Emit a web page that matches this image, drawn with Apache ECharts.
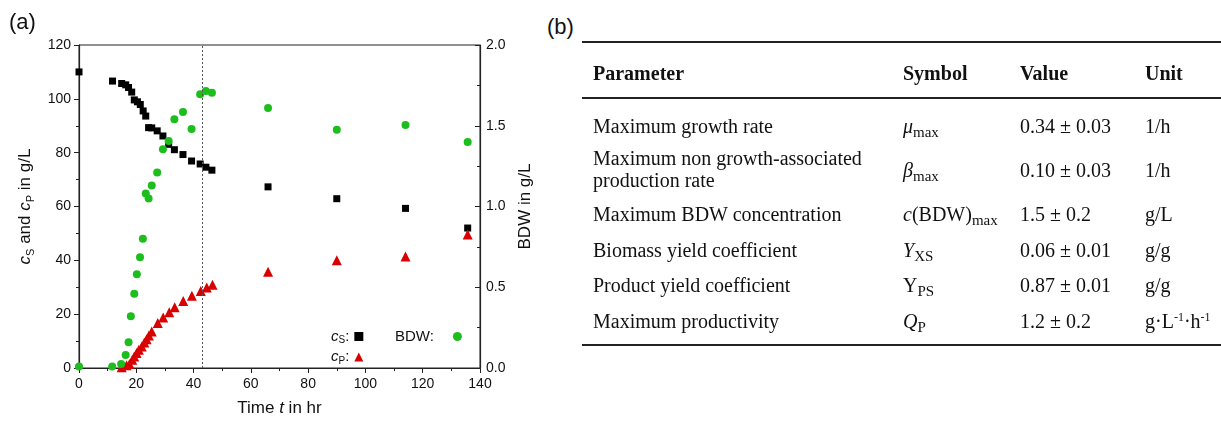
<!DOCTYPE html>
<html>
<head>
<meta charset="utf-8">
<script src="https://cdn.jsdelivr.net/npm/echarts@6/dist/echarts.min.js"></script>
<style>
  html, body { margin: 0; padding: 0; background: #fff; }
  body { width: 1221px; height: 422px; position: relative; overflow: hidden; }
  #chart { position: absolute; left: 0; top: 0; width: 545px; height: 422px; }
  .panel { position: absolute; font-family: "Liberation Sans", Arial, sans-serif; font-size: 22px; color: #111; line-height: 26px; }
  #tbl { position: absolute; left: 0; top: 0; width: 1221px; height: 422px; font-family: "Liberation Serif", "Times New Roman", serif; color: #111; font-size: 20px; }
  .cell { position: absolute; line-height: 22px; white-space: nowrap; }
  .hdr { font-weight: bold; }
  .rule { position: absolute; background: #222; }
  sub { font-size: 15px; vertical-align: -4px; line-height: 0; }
  sup { font-size: 12px; vertical-align: 7px; line-height: 0; }
  i { font-style: italic; }
</style>
</head>
<body>
<div id="chart"></div>
<div class="panel" style="left:9px; top:9px;">(a)</div>
<div class="panel" style="left:547px; top:14px;">(b)</div>
<div id="tbl"></div>
<script>
// ---------- data (panel a) ----------
const timeS = [0, 11.7, 14.9, 16.3, 17.3, 18.4, 19.3, 20.4, 21.4, 22.4, 23.3, 24.3, 25.4, 27.3, 29.3, 31.3, 33.3, 36.3, 39.3, 42.3, 44.3, 46.4, 66, 90, 114, 135.7];
const cS    = [110, 106.6, 105.7, 105.2, 104.2, 102.5, 99.6, 98.9, 97.9, 95.5, 93.6, 89.3, 89.2, 88.1, 86.2, 83.1, 81.1, 79.3, 76.9, 75.8, 74.6, 73.5, 67.3, 62.9, 59.3, 52.0];
const timeP = [14.9, 16.6, 17.6, 18.6, 19.3, 20.1, 20.9, 21.9, 22.8, 23.6, 24.4, 25.4, 27.5, 29.4, 31.5, 33.4, 36.4, 39.4, 42.5, 44.6, 46.6, 66, 90, 114, 135.7];
const cP    = [0.3, 1.0, 1.5, 3.1, 4.3, 5.6, 6.8, 8.0, 9.5, 10.7, 12.1, 13.6, 16.7, 18.8, 20.7, 22.6, 24.9, 26.8, 28.6, 29.9, 30.9, 35.8, 40.0, 41.4, 49.6];
const timeX = [0, 11.6, 14.7, 16.3, 17.3, 18.1, 19.3, 20.2, 21.3, 22.3, 23.3, 24.3, 25.4, 27.3, 29.3, 31.3, 33.3, 36.3, 39.3, 42.3, 44.3, 46.4, 66, 90, 114, 135.7];
const bdw   = [0.01, 0.01, 0.025, 0.08, 0.16, 0.32, 0.46, 0.58, 0.685, 0.80, 1.08, 1.05, 1.13, 1.21, 1.355, 1.405, 1.54, 1.585, 1.48, 1.695, 1.715, 1.705, 1.61, 1.475, 1.505, 1.40];
const markTime = 43;

// ---------- data (panel b) ----------
const tblHeaders = ['Parameter', 'Symbol', 'Value', 'Unit'];
const tblParams  = ['Maximum growth rate', 'Maximum non growth-associated<br>production rate', 'Maximum BDW concentration', 'Biomass yield coefficient', 'Product yield coefficient', 'Maximum productivity'];
const tblSymbols = ['<i>μ</i><sub>max</sub>', '<i>β</i><sub>max</sub>', '<i>c</i>(BDW)<sub>max</sub>', '<i>Y</i><sub>XS</sub>', 'Y<sub>PS</sub>', '<i>Q</i><sub>P</sub>'];
const tblValues  = ['0.34 ± 0.03', '0.10 ± 0.03', '1.5 ± 0.2', '0.06 ± 0.01', '0.87 ± 0.01', '1.2 ± 0.2'];
const tblUnits   = ['1/h', '1/h', 'g/L', 'g/g', 'g/g', 'g·L<sup>-1</sup>·h<sup>-1</sup>'];

// ---------- table layout ----------
const colX = [593, 903, 1020, 1145];
const headerY = 73;
const rowY = [126, 170, 214, 250, 285, 321];
const tbl = document.getElementById('tbl');
function addRule(y, h) {
  const d = document.createElement('div');
  d.className = 'rule';
  d.style.left = '582px'; d.style.width = (1221 - 582) + 'px';
  d.style.top = y + 'px'; d.style.height = h + 'px';
  tbl.appendChild(d);
}
function addCell(html, x, yc, lines, cls) {
  const d = document.createElement('div');
  d.className = 'cell' + (cls ? ' ' + cls : '');
  d.innerHTML = html;
  d.style.left = x + 'px';
  d.style.top = (yc - 11 * lines) + 'px';
  tbl.appendChild(d);
}
addRule(41, 2); addRule(97, 1.5); addRule(344, 2);
tblHeaders.forEach((h, i) => addCell(h, colX[i], headerY, 1, 'hdr'));
rowY.forEach((y, r) => {
  const lines = tblParams[r].includes('<br>') ? 2 : 1;
  addCell(tblParams[r], colX[0], y - (lines === 2 ? 1 : 0), lines);
  addCell(tblSymbols[r], colX[1], y, 1);
  addCell(tblValues[r], colX[2], y, 1);
  addCell(tblUnits[r], colX[3], y, 1);
});

// ---------- chart ----------
const font = '"Liberation Sans", Arial, sans-serif';
const txt = '#111';
const zip = (a, b) => a.map((v, i) => [v, b[i]]);
const chart = echarts.init(document.getElementById('chart'), null, { renderer: 'canvas' });
const sub = { fontSize: 11, fontFamily: font, color: txt, verticalAlign: 'bottom', lineHeight: 11 };
chart.setOption({
  animation: false,
  grid: { left: 79, top: 45, width: 401, height: 325, show: true, borderColor: '#222', borderWidth: 1, backgroundColor: 'transparent' },
  xAxis: {
    type: 'value', min: 0, max: 140, interval: 20,
    axisLine: { lineStyle: { color: '#222', width: 1.2 } },
    axisTick: { show: true, length: 5, lineStyle: { color: '#222' } },
    minorTick: { show: true, splitNumber: 2, length: 3, lineStyle: { color: '#222' } },
    splitLine: { show: false },
    axisLabel: { fontFamily: font, fontSize: 14, color: txt, margin: 9 },
    name: '{n|Time }{i|t}{n| in hr}', nameLocation: 'middle', nameGap: 32,
    nameTextStyle: { rich: { n: { fontFamily: font, fontSize: 17, color: txt }, i: { fontFamily: font, fontSize: 17, fontStyle: 'italic', color: txt } } }
  },
  yAxis: [{
    type: 'value', min: 0, max: 120, interval: 20, position: 'left',
    axisLine: { show: true, lineStyle: { color: '#222', width: 1.2 } },
    axisTick: { show: true, length: 5, lineStyle: { color: '#222' } },
    minorTick: { show: true, splitNumber: 2, length: 3, lineStyle: { color: '#222' } },
    splitLine: { show: false },
    axisLabel: { fontFamily: font, fontSize: 14, color: txt, margin: 8 },
    name: '{i|c}{s|S}{n| and }{i|c}{s|P}{n| in g/L}', nameLocation: 'middle', nameGap: 40, nameRotate: 90,
    nameTextStyle: { rich: {
      n: { fontFamily: font, fontSize: 17, color: txt, lineHeight: 22 },
      i: { fontFamily: font, fontSize: 17, fontStyle: 'italic', color: txt, lineHeight: 22 },
      s: sub } }
  }, {
    type: 'value', min: 0, max: 2, interval: 0.5, position: 'right',
    axisLine: { show: true, lineStyle: { color: '#222', width: 1.2 } },
    axisTick: { show: true, inside: true, length: 5, lineStyle: { color: '#222' } },
    minorTick: { show: true, splitNumber: 2, length: 3, lineStyle: { color: '#222' } },
    splitLine: { show: false },
    axisLabel: { fontFamily: font, fontSize: 14, color: txt, margin: 6, formatter: v => v.toFixed(1) },
    name: 'BDW in g/L', nameLocation: 'middle', nameGap: 36, nameRotate: 90,
    nameTextStyle: { fontFamily: font, fontSize: 17, color: txt }
  }],
  legend: [{
    data: ['cS', 'cP'], orient: 'vertical', left: 331, top: 329, align: 'right',
    itemWidth: 9, itemHeight: 9, itemGap: 4, padding: 0,
    formatter: n => n === 'cS' ? '{i|c}{s|S}{n|:}' : '{i|c}{s|P}{n|:}',
    textStyle: { rich: {
      i: { fontFamily: font, fontSize: 15, fontStyle: 'italic', color: txt, lineHeight: 18 },
      n: { fontFamily: font, fontSize: 15, color: txt, lineHeight: 18 },
      s: { fontFamily: font, fontSize: 10, color: txt, verticalAlign: 'bottom', lineHeight: 10 } } }
  }, {
    data: ['BDW'], left: 395, top: 329, align: 'right', itemWidth: 9, itemHeight: 9, padding: 0,
    formatter: '{n|BDW:}',
    textStyle: { rich: { n: { fontFamily: font, fontSize: 15, color: txt, lineHeight: 18, padding: [0, 14, 0, 0] } } }
  }],
  series: [{
    name: 'cS', type: 'scatter', yAxisIndex: 0, symbol: 'rect', symbolSize: 7,
    itemStyle: { color: '#000', opacity: 1 }, data: zip(timeS, cS),
    markLine: { silent: true, symbol: 'none', label: { show: false },
      lineStyle: { type: [2, 2], color: '#555', width: 1 }, data: [{ xAxis: markTime }] }
  }, {
    name: 'cP', type: 'scatter', yAxisIndex: 0, symbol: 'triangle', symbolSize: 10,
    itemStyle: { color: '#d80000', opacity: 1 }, data: zip(timeP, cP)
  }, {
    name: 'BDW', type: 'scatter', yAxisIndex: 1, symbol: 'circle', symbolSize: 8,
    itemStyle: { color: '#1ebd1e', opacity: 1 }, data: zip(timeX, bdw)
  }]
});
</script>
</body>
</html>
